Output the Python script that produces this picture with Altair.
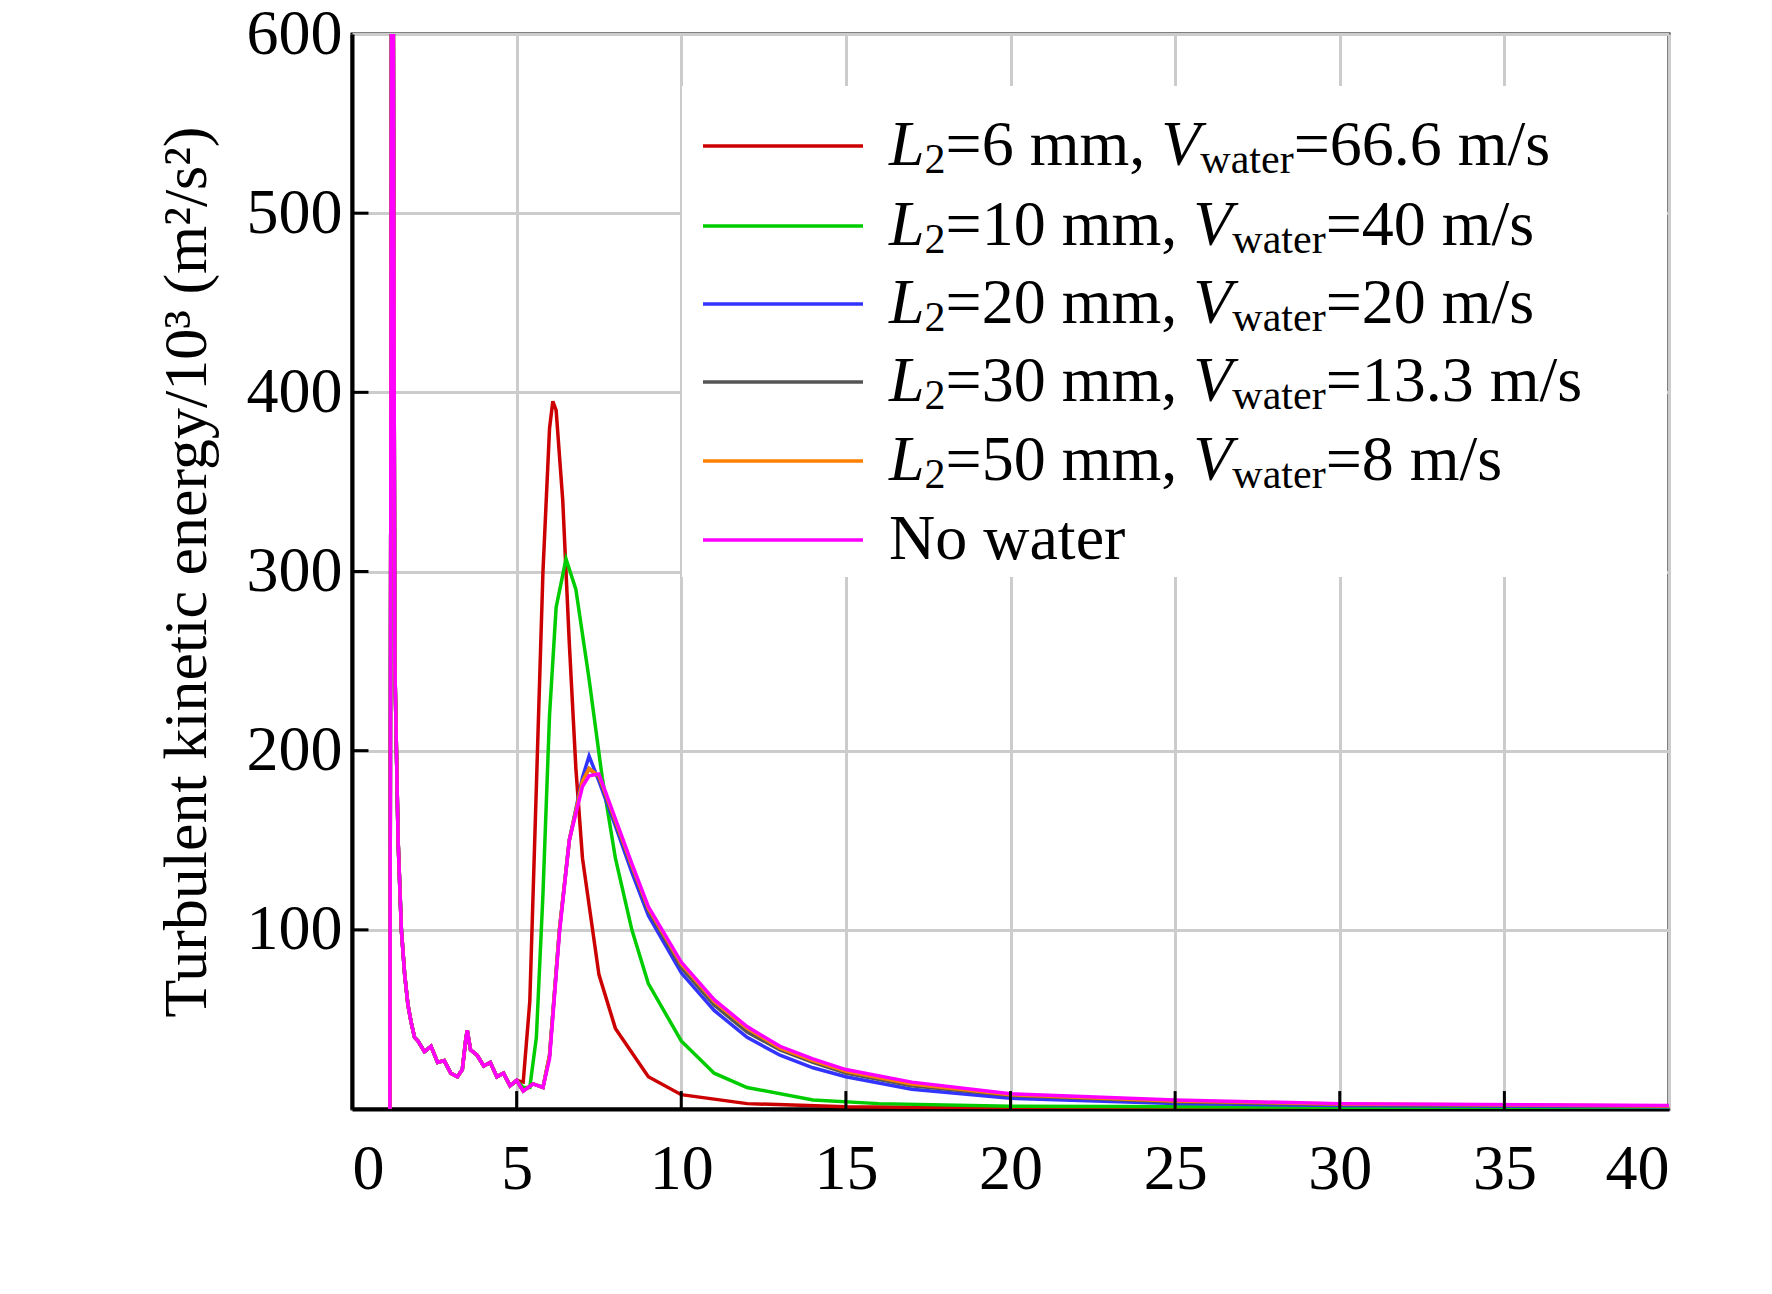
import altair as alt
import pandas as pd

# shared start of every curve (Y/D, k/10^3)
head_x = [1.15, 1.2, 1.25, 1.3, 1.4, 1.5, 1.6, 1.7, 1.8, 1.9, 2.0, 2.2, 2.4, 2.6, 2.8, 3.0, 3.2, 3.35, 3.45, 3.5, 3.6, 3.8, 4.0, 4.2, 4.4, 4.6, 4.8, 5.0]
head_y = [0, 620, 650, 250, 150, 100, 75, 58, 48, 40, 38, 32, 35, 26, 27, 20, 18, 22, 38, 44, 33, 30, 24, 26, 18, 20, 13, 16]

red_x = [5.2, 5.4, 5.6, 5.8, 6.0, 6.1, 6.2, 6.4, 6.6, 6.8, 7.0, 7.5, 8.0, 9.0, 10, 12, 15, 20, 40]
red_y = [15, 60, 180, 300, 380, 395, 390, 340, 260, 190, 140, 75, 45, 18, 8, 3, 1.2, 0.5, 0]
green_x = [5.2, 5.4, 5.6, 5.8, 6.0, 6.2, 6.5, 6.8, 7.2, 7.6, 8.0, 8.5, 9.0, 10, 11, 12, 14, 16, 20, 40]
green_y = [12, 12, 40, 120, 220, 280, 307, 290, 240, 185, 140, 100, 70, 38, 20, 12, 5, 3, 1.5, 0.5]
base_x = [5.2, 5.5, 5.8, 6.0, 6.3, 6.6, 7.0, 7.2, 7.5, 8.0, 8.5, 9.0, 10, 11, 12, 13, 14, 15, 17, 20, 25, 30, 40]
blue_y = [10, 14, 12, 30, 100, 150, 185, 197, 183, 158, 132, 108, 76, 55, 40, 30, 23, 18, 11, 6, 3, 2, 1.2]
gray_y = [10, 14, 12, 30, 100, 150, 183, 190, 185, 160, 135, 111, 79, 58, 43, 33, 26, 20, 13, 7.5, 4, 2.5, 1.5]
orange_y = [10, 14, 12, 30, 100, 150, 183, 190, 186, 161, 136, 112, 81, 60, 45, 34, 27, 21, 14, 8, 4.5, 2.8, 1.7]
magenta_y = [10, 14, 12, 28, 98, 150, 180, 186, 187, 162, 137, 113, 82, 61, 46, 35, 28, 22, 15, 8.5, 5, 3, 2]

names = ["red", "green", "blue", "gray", "orange", "magenta"]
colors = ["#cc0000", "#00cc00", "#3333ff", "#555555", "#ff8000", "#ff00ff"]
series = {
    "red": (red_x, red_y), "green": (green_x, green_y), "blue": (base_x, blue_y),
    "gray": (base_x, gray_y), "orange": (base_x, orange_y), "magenta": (base_x, magenta_y),
}
legend_main = [
    ["=6 mm, ", "=66.6 m/s"], ["=10 mm, ", "=40 m/s"], ["=20 mm, ", "=20 m/s"],
    ["=30 mm, ", "=13.3 m/s"], ["=50 mm, ", "=8 m/s"],
]

rows = []
for order, n in enumerate(names):
    xs, ys = series[n]
    for i, (a, b) in enumerate(zip(head_x + xs, head_y + ys)):
        rows.append({"s": n, "o": order, "i": i, "x": a, "y": b})
df = pd.DataFrame(rows)

W, H = 1317, 1075
FONT = "Liberation Serif"
FS = 64
SUB = 42

xs = alt.X("x:Q", scale=alt.Scale(domain=[0, 40], nice=False),
           axis=alt.Axis(values=[0, 5, 10, 15, 20, 25, 30, 35, 40], title="Y/D",
                         titleFontStyle="italic", titleFontWeight="normal", titlePadding=70,
                         labelPadding=28, ticks=False, domainWidth=4, domainColor="black",
                         gridColor="#cccccc", gridWidth=3))
ys = alt.Y("y:Q", scale=alt.Scale(domain=[0, 600], nice=False),
           axis=alt.Axis(values=[100, 200, 300, 400, 500, 600],
                         title="Turbulent kinetic energy/10³ (m²/s²)", titleFontWeight="normal",
                         titlePadding=28, labelPadding=10, ticks=False, domainWidth=4,
                         domainColor="black", gridColor="#cccccc", gridWidth=3))

lines = alt.Chart(df).mark_line(strokeWidth=3.5, clip=True).encode(
    x=xs, y=ys,
    color=alt.Color("s:N", scale=alt.Scale(domain=names, range=colors), legend=None),
    detail="o:Q", order="i:Q",
)

tick_df = pd.DataFrame({"x": [5, 10, 15, 20, 25, 30, 35], "y": [0] * 7, "y2": [10] * 7})
xticks = alt.Chart(tick_df).mark_rule(color="black", strokeWidth=3).encode(x="x:Q", y="y:Q", y2="y2:Q")
ytick_df = pd.DataFrame({"x": [0] * 5, "x2": [0.5] * 5, "y": [100, 200, 300, 400, 500]})
yticks = alt.Chart(ytick_df).mark_rule(color="black", strokeWidth=3).encode(x="x:Q", x2="x2:Q", y="y:Q")

# legend, drawn by hand to get the subscripts
box = alt.Chart(pd.DataFrame({"a": [0]})).mark_rect(color="white").encode(
    x=alt.value(330), x2=alt.value(1315), y=alt.value(52), y2=alt.value(543))

char_w = {"L": 556, "V": 611, "2": 500, "=": 564, " ": 250, "m": 778, ",": 250, ".": 250,
          "/": 278, "s": 389, "w": 722, "a": 444, "t": 278, "e": 444, "r": 333}
for d in "0123456789":
    char_w[d] = 500

def tw(s, size):
    return sum(char_w.get(c, 500) for c in s) / 1000 * size

pieces = []
row_y = [112, 192, 270, 348, 427, 506]
for r, (a, b) in enumerate(legend_main):
    y = row_y[r]
    x = 537
    for txt, kind, dy in [("L", "it", 0), ("2", "sub", 14), (a, "main", 0),
                          ("V", "it", 0), ("water", "sub", 14), (b, "main", 0)]:
        size = SUB if kind == "sub" else FS
        pieces.append({"t": txt, "x": x, "y": y + dy, "k": kind})
        x += tw(txt, size)
pieces.append({"t": "No water", "x": 537, "y": row_y[5], "k": "main"})
pdf = pd.DataFrame(pieces)

def leg_layer(kind, size, style):
    return alt.Chart(pdf).transform_filter(alt.datum.k == kind).mark_text(
        font=FONT, align="left", baseline="middle", color="black", fontSize=size, fontStyle=style
    ).encode(x=alt.X("x:Q", scale=None), y=alt.Y("y:Q", scale=None), text="t:N")

sw_df = pd.DataFrame({"c": names, "y": row_y})
swatches = alt.Chart(sw_df).mark_rule(strokeWidth=3.5).encode(
    x=alt.value(351), x2=alt.value(511), y=alt.Y("y:Q", scale=None),
    color=alt.Color("c:N", scale=alt.Scale(domain=names, range=colors), legend=None))

chart = alt.layer(
    lines, xticks, yticks, box, swatches,
    leg_layer("main", FS, "normal"), leg_layer("it", FS, "italic"), leg_layer("sub", SUB, "normal"),
).properties(
    width=W, height=H, autosize=alt.AutoSizeParams(type="none"),
    padding={"left": 344, "top": 26, "right": 80, "bottom": 170},
).configure_axis(
    labelFont=FONT, titleFont=FONT, labelFontSize=FS, titleFontSize=62, labelColor="black", titleColor="black"
).configure_view(stroke="black", strokeWidth=3)

chart.save("out.html", embed_options={"renderer": "svg", "actions": False})
